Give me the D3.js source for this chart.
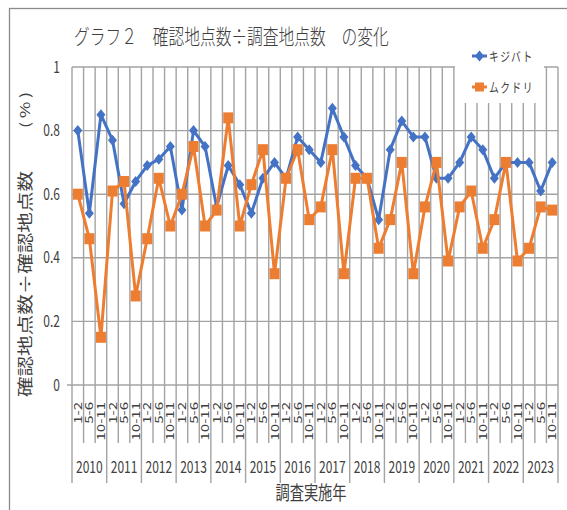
<!DOCTYPE html>
<meta charset="utf-8">
<script src="https://d3js.org/d3.v7.min.js"></script>
<style>
  body { margin: 0; background: #fff; }
  text { fill: #404040; }
</style>
<div id="chart"></div>
<script>
// chart data
const years = ["2010","2011","2012","2013","2014","2015","2016","2017","2018","2019","2020","2021","2022","2023"];
const periods = ["1-2","5-6","10-11"];
const kijibato = [0.80,0.54,0.85,0.77,0.57,0.64, 0.69,0.71,0.75,0.55,0.80,0.75,
                  0.56,0.69,0.63,0.54,0.65,0.70, 0.65,0.78,0.74,0.70,0.87,0.78,
                  0.69,0.65,0.52,0.74,0.83,0.78, 0.78,0.65,0.65,0.70,0.78,0.74,
                  0.65,0.70,0.70,0.70,0.61,0.70];
const mukudori = [0.60,0.46,0.15,0.61,0.64,0.28, 0.46,0.65,0.50,0.60,0.75,0.50,
                  0.55,0.84,0.50,0.63,0.74,0.35, 0.65,0.74,0.52,0.56,0.74,0.35,
                  0.65,0.65,0.43,0.52,0.70,0.35, 0.56,0.70,0.39,0.56,0.61,0.43,
                  0.52,0.70,0.39,0.43,0.56,0.55];
const yTicks = [0, 0.2, 0.4, 0.6, 0.8, 1];
const seriesNames = ["キジバト", "ムクドリ"];

// dimensions
const margin = {top: 67, right: 9, bottom: 125, left: 72},
      width = 567 - margin.left - margin.right,
      height = 510 - margin.top - margin.bottom;

const blue = "#4472C4", orange = "#ED7D31", grid = "#a3a3a3";
const sx = 0.75; // text is drawn narrower than tall in the original

const root = d3.select("#chart")
  .append("svg")
  .attr("width", 567)
  .attr("height", 510)
  .style("font-family", "'Noto Sans CJK JP', 'Noto Sans', sans-serif");

// outer frame
root.append("rect")
  .attr("x", 9.5).attr("y", 8.5)
  .attr("width", 700).attr("height", 700)
  .attr("fill", "none").attr("stroke", "#8a8a8a").attr("stroke-width", 1.3);

const svg = root.append("g")
  .attr("transform", `translate(${margin.left}, ${margin.top})`);

const cats = [];
years.forEach(y => periods.forEach(p => cats.push(y + "|" + p)));

const x = d3.scaleBand().domain(cats).range([0, width]);
const y = d3.scaleLinear().domain([0, 1]).range([height, 0]);
const cx = d => x(d) + x.bandwidth() / 2;

// horizontal gridlines
svg.append("g").selectAll("line")
  .data(yTicks)
  .join("line")
    .attr("x1", d => d === 0 ? -5 : 0)
    .attr("x2", width)
    .attr("y1", d => y(d)).attr("y2", d => y(d))
    .attr("stroke", grid).attr("stroke-width", 1.4);

// vertical gridlines + category ticks below axis
const edges = cats.map((d, i) => ({pos: x(d), year: i % 3 === 0}))
  .concat([{pos: width, year: true}]);
svg.append("g").selectAll("line")
  .data(edges)
  .join("line")
    .attr("x1", d => d.pos).attr("x2", d => d.pos)
    .attr("y1", 0)
    .attr("y2", d => height + (d.year ? 98 : 58))
    .attr("stroke", grid).attr("stroke-width", 1.4);

// y tick labels
svg.append("g").selectAll("text")
  .data(yTicks)
  .join("text")
    .attr("transform", d => `translate(-12, ${y(d)}) scale(${sx},1)`)
    .attr("dy", "0.35em")
    .style("text-anchor", "end")
    .style("font-size", "16px")
    .text(d => d);

// period labels (rotated)
svg.append("g").selectAll("text")
  .data(cats)
  .join("text")
    .attr("transform", d => `translate(${cx(d)}, ${height + 17}) scale(${sx},1) rotate(-90)`)
    .attr("dy", "0.36em")
    .style("text-anchor", "end")
    .style("font-size", "15px")
    .text(d => d.split("|")[1]);

// year labels
svg.append("g").selectAll("text")
  .data(years)
  .join("text")
    .attr("transform", d => `translate(${x(d + "|5-6") + x.bandwidth() / 2}, ${height + 82}) scale(${sx},1)`)
    .attr("dy", "0.35em")
    .style("text-anchor", "middle")
    .style("font-size", "16px")
    .text(d => d);

// legend box (covers the gridlines)
const legend = svg.append("g").attr("transform", `translate(${455 - margin.left}, ${40 - margin.top})`);
legend.append("rect")
  .attr("width", 89).attr("height", 63)
  .attr("fill", "#fff");

// series lines + markers
const line = d3.line()
  .x((d, i) => cx(cats[i]))
  .y(d => y(d));

const diamond = "M0,-5.5L4.5,0L0,5.5L-4.5,0Z";

svg.append("path")
  .datum(kijibato)
  .attr("d", line)
  .attr("fill", "none").attr("stroke", blue).attr("stroke-width", 3)
  .attr("stroke-linejoin", "round");
svg.append("g").selectAll("path")
  .data(kijibato)
  .join("path")
    .attr("d", diamond)
    .attr("transform", (d, i) => `translate(${cx(cats[i])}, ${y(d)})`)
    .attr("fill", blue);

svg.append("path")
  .datum(mukudori)
  .attr("d", line)
  .attr("fill", "none").attr("stroke", orange).attr("stroke-width", 3)
  .attr("stroke-linejoin", "round");
svg.append("g").selectAll("rect")
  .data(mukudori)
  .join("rect")
    .attr("x", (d, i) => cx(cats[i]) - 5)
    .attr("y", d => y(d) - 5.5)
    .attr("width", 10).attr("height", 11)
    .attr("fill", orange);

// legend entries
const items = legend.selectAll("g.item")
  .data(seriesNames)
  .join("g")
    .attr("class", "item")
    .attr("transform", (d, i) => `translate(0, ${16 + i * 31})`);
items.append("line")
  .attr("x1", 17).attr("x2", 32)
  .attr("stroke", (d, i) => i ? orange : blue).attr("stroke-width", 3);
items.append("path")
  .attr("d", (d, i) => i ? "M-4.5,-4.5H4.5V4.5H-4.5Z" : diamond)
  .attr("transform", "translate(24.5,0)")
  .attr("fill", (d, i) => i ? orange : blue);
items.append("text")
  .attr("transform", `translate(34, 0) scale(${sx},1)`)
  .attr("dy", "0.36em")
  .style("font-size", "13px")
  .style("letter-spacing", "2px")
  .text(d => d);

// title
root.append("text")
  .attr("transform", `translate(74, 36) scale(${sx},1)`)
  .attr("dy", "0.36em")
  .style("font-weight", 300)
  .style("font-size", "21px")
  .text("グラフ２　確認地点数÷調査地点数　の変化");

// axis titles
root.append("text")
  .attr("transform", `translate(311, 493) scale(${sx},1)`)
  .attr("dy", "0.36em")
  .style("text-anchor", "middle")
  .style("font-size", "19px")
  .text("調査実施年");

root.append("text")
  .attr("transform", `translate(25, 397) scale(${sx},1) rotate(-90)`)
  .attr("dy", "0.36em")
  .attr("textLength", 226)
  .attr("lengthAdjust", "spacingAndGlyphs")
  .style("font-size", "21px")
  .text("確認地点数÷確認地点数");

root.append("text")
  .attr("transform", `translate(25, 128) scale(${sx},1) rotate(-90)`)
  .attr("dy", "0.36em")
  .attr("textLength", 36)
  .attr("lengthAdjust", "spacing")
  .style("font-size", "18px")
  .text("( % )");
</script>
